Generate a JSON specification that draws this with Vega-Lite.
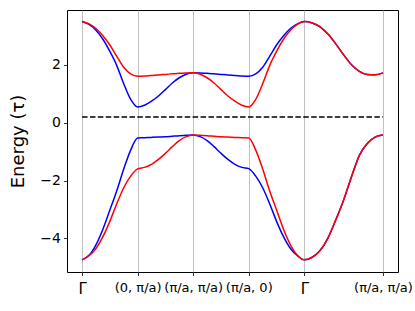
{
  "$schema": "https://vega.github.io/schema/vega-lite/v6.json",
  "width": 331,
  "height": 262,
  "autosize": "none",
  "padding": {"left": 67, "top": 10, "right": 17, "bottom": 39},
  "background": "white",
  "config": {
    "view": {"stroke": "#000", "strokeWidth": 1},
    "font": "DejaVu Sans"
  },
  "datasets": {
    "blue": [
      {"x":0,"E":3.49,"band":"u"},{"x":0.125,"E":3.39,"band":"u"},{"x":0.25,"E":3.19,"band":"u"},{"x":0.375,"E":2.88,"band":"u"},{"x":0.5,"E":2.46,"band":"u"},{"x":0.625,"E":1.97,"band":"u"},{"x":0.75,"E":1.34,"band":"u"},{"x":0.875,"E":0.80,"band":"u"},{"x":1,"E":0.54,"band":"u"},
      {"x":1.125,"E":0.60,"band":"u"},{"x":1.25,"E":0.74,"band":"u"},{"x":1.375,"E":0.92,"band":"u"},{"x":1.5,"E":1.14,"band":"u"},{"x":1.625,"E":1.37,"band":"u"},{"x":1.75,"E":1.55,"band":"u"},{"x":1.875,"E":1.67,"band":"u"},{"x":2,"E":1.72,"band":"u"},
      {"x":2.125,"E":1.715,"band":"u"},{"x":2.25,"E":1.705,"band":"u"},{"x":2.375,"E":1.685,"band":"u"},{"x":2.5,"E":1.665,"band":"u"},{"x":2.625,"E":1.645,"band":"u"},{"x":2.75,"E":1.63,"band":"u"},{"x":2.875,"E":1.61,"band":"u"},{"x":3,"E":1.60,"band":"u"},
      {"x":3.125,"E":1.68,"band":"u"},{"x":3.25,"E":1.91,"band":"u"},{"x":3.375,"E":2.29,"band":"u"},{"x":3.5,"E":2.68,"band":"u"},{"x":3.625,"E":3.00,"band":"u"},{"x":3.75,"E":3.25,"band":"u"},{"x":3.875,"E":3.41,"band":"u"},{"x":4,"E":3.49,"band":"u"},
      {"x":4.1414,"E":3.44,"band":"u"},{"x":4.2828,"E":3.31,"band":"u"},{"x":4.4243,"E":3.06,"band":"u"},{"x":4.5657,"E":2.72,"band":"u"},{"x":4.7071,"E":2.34,"band":"u"},{"x":4.8485,"E":2.00,"band":"u"},{"x":4.9899,"E":1.77,"band":"u"},{"x":5.1314,"E":1.66,"band":"u"},{"x":5.2728,"E":1.65,"band":"u"},{"x":5.4142,"E":1.72,"band":"u"},
      {"x":0,"E":-4.74,"band":"l"},{"x":0.125,"E":-4.585,"band":"l"},{"x":0.25,"E":-4.22,"band":"l"},{"x":0.375,"E":-3.68,"band":"l"},{"x":0.5,"E":-3.02,"band":"l"},{"x":0.625,"E":-2.35,"band":"l"},{"x":0.75,"E":-1.60,"band":"l"},{"x":0.875,"E":-0.95,"band":"l"},{"x":1,"E":-0.53,"band":"l"},
      {"x":1.125,"E":-0.52,"band":"l"},{"x":1.25,"E":-0.51,"band":"l"},{"x":1.375,"E":-0.50,"band":"l"},{"x":1.5,"E":-0.49,"band":"l"},{"x":1.625,"E":-0.47,"band":"l"},{"x":1.75,"E":-0.45,"band":"l"},{"x":1.875,"E":-0.44,"band":"l"},{"x":2,"E":-0.43,"band":"l"},
      {"x":2.125,"E":-0.485,"band":"l"},{"x":2.25,"E":-0.62,"band":"l"},{"x":2.375,"E":-0.83,"band":"l"},{"x":2.5,"E":-1.06,"band":"l"},{"x":2.625,"E":-1.27,"band":"l"},{"x":2.75,"E":-1.44,"band":"l"},{"x":2.875,"E":-1.545,"band":"l"},{"x":3,"E":-1.59,"band":"l"},
      {"x":3.125,"E":-1.85,"band":"l"},{"x":3.25,"E":-2.25,"band":"l"},{"x":3.375,"E":-2.80,"band":"l"},{"x":3.5,"E":-3.41,"band":"l"},{"x":3.625,"E":-3.94,"band":"l"},{"x":3.75,"E":-4.35,"band":"l"},{"x":3.875,"E":-4.60,"band":"l"},{"x":4,"E":-4.74,"band":"l"},
      {"x":4.1414,"E":-4.65,"band":"l"},{"x":4.2828,"E":-4.42,"band":"l"},{"x":4.4243,"E":-3.99,"band":"l"},{"x":4.5657,"E":-3.36,"band":"l"},{"x":4.7071,"E":-2.67,"band":"l"},{"x":4.8485,"E":-1.87,"band":"l"},{"x":4.9899,"E":-1.13,"band":"l"},{"x":5.1314,"E":-0.72,"band":"l"},{"x":5.2728,"E":-0.50,"band":"l"},{"x":5.4142,"E":-0.43,"band":"l"}
    ],
    "red": [
      {"x":0,"E":3.49,"band":"u"},{"x":0.125,"E":3.41,"band":"u"},{"x":0.25,"E":3.25,"band":"u"},{"x":0.375,"E":3.00,"band":"u"},{"x":0.5,"E":2.68,"band":"u"},{"x":0.625,"E":2.29,"band":"u"},{"x":0.75,"E":1.91,"band":"u"},{"x":0.875,"E":1.68,"band":"u"},{"x":1,"E":1.60,"band":"u"},
      {"x":1.125,"E":1.61,"band":"u"},{"x":1.25,"E":1.63,"band":"u"},{"x":1.375,"E":1.645,"band":"u"},{"x":1.5,"E":1.665,"band":"u"},{"x":1.625,"E":1.685,"band":"u"},{"x":1.75,"E":1.705,"band":"u"},{"x":1.875,"E":1.715,"band":"u"},{"x":2,"E":1.72,"band":"u"},
      {"x":2.125,"E":1.67,"band":"u"},{"x":2.25,"E":1.55,"band":"u"},{"x":2.375,"E":1.37,"band":"u"},{"x":2.5,"E":1.14,"band":"u"},{"x":2.625,"E":0.92,"band":"u"},{"x":2.75,"E":0.74,"band":"u"},{"x":2.875,"E":0.60,"band":"u"},{"x":3,"E":0.54,"band":"u"},
      {"x":3.125,"E":0.80,"band":"u"},{"x":3.25,"E":1.34,"band":"u"},{"x":3.375,"E":1.97,"band":"u"},{"x":3.5,"E":2.46,"band":"u"},{"x":3.625,"E":2.88,"band":"u"},{"x":3.75,"E":3.19,"band":"u"},{"x":3.875,"E":3.39,"band":"u"},{"x":4,"E":3.49,"band":"u"},
      {"x":4.1414,"E":3.44,"band":"u"},{"x":4.2828,"E":3.31,"band":"u"},{"x":4.4243,"E":3.06,"band":"u"},{"x":4.5657,"E":2.72,"band":"u"},{"x":4.7071,"E":2.34,"band":"u"},{"x":4.8485,"E":2.00,"band":"u"},{"x":4.9899,"E":1.77,"band":"u"},{"x":5.1314,"E":1.66,"band":"u"},{"x":5.2728,"E":1.65,"band":"u"},{"x":5.4142,"E":1.72,"band":"u"},
      {"x":0,"E":-4.74,"band":"l"},{"x":0.125,"E":-4.60,"band":"l"},{"x":0.25,"E":-4.35,"band":"l"},{"x":0.375,"E":-3.94,"band":"l"},{"x":0.5,"E":-3.41,"band":"l"},{"x":0.625,"E":-2.80,"band":"l"},{"x":0.75,"E":-2.25,"band":"l"},{"x":0.875,"E":-1.85,"band":"l"},{"x":1,"E":-1.60,"band":"l"},
      {"x":1.125,"E":-1.545,"band":"l"},{"x":1.25,"E":-1.44,"band":"l"},{"x":1.375,"E":-1.27,"band":"l"},{"x":1.5,"E":-1.06,"band":"l"},{"x":1.625,"E":-0.83,"band":"l"},{"x":1.75,"E":-0.62,"band":"l"},{"x":1.875,"E":-0.485,"band":"l"},{"x":2,"E":-0.43,"band":"l"},
      {"x":2.125,"E":-0.44,"band":"l"},{"x":2.25,"E":-0.45,"band":"l"},{"x":2.375,"E":-0.47,"band":"l"},{"x":2.5,"E":-0.49,"band":"l"},{"x":2.625,"E":-0.50,"band":"l"},{"x":2.75,"E":-0.51,"band":"l"},{"x":2.875,"E":-0.52,"band":"l"},{"x":3,"E":-0.53,"band":"l"},
      {"x":3.125,"E":-0.95,"band":"l"},{"x":3.25,"E":-1.60,"band":"l"},{"x":3.375,"E":-2.35,"band":"l"},{"x":3.5,"E":-3.02,"band":"l"},{"x":3.625,"E":-3.68,"band":"l"},{"x":3.75,"E":-4.22,"band":"l"},{"x":3.875,"E":-4.585,"band":"l"},{"x":4,"E":-4.74,"band":"l"},
      {"x":4.1414,"E":-4.65,"band":"l"},{"x":4.2828,"E":-4.42,"band":"l"},{"x":4.4243,"E":-3.99,"band":"l"},{"x":4.5657,"E":-3.36,"band":"l"},{"x":4.7071,"E":-2.67,"band":"l"},{"x":4.8485,"E":-1.87,"band":"l"},{"x":4.9899,"E":-1.13,"band":"l"},{"x":5.1314,"E":-0.72,"band":"l"},{"x":5.2728,"E":-0.50,"band":"l"},{"x":5.4142,"E":-0.43,"band":"l"}
    ],
    "fermi": [
      {"x":0,"E":0.19,"band":"f"},{"x":5.4142,"E":0.19,"band":"f"}
    ]
  },
  "encoding": {
    "x": {
      "field": "x", "type": "quantitative",
      "scale": {"domain": [-0.271, 5.685], "nice": false, "zero": false},
      "axis": {
        "values": [0, 1, 2, 3, 4, 5.4142],
        "labelExpr": "['Γ','(0, π/a)','(π/a, π/a)','(π/a, 0)','Γ','(π/a, π/a)'][min(round(datum.value),5)]",
        "title": null,
        "grid": true, "gridColor": "#b0b0b0", "gridWidth": 0.8, "gridOpacity": 1,
        "domain": false,
        "ticks": true, "tickColor": "#000", "tickSize": 3.5, "tickWidth": 0.8,
        "labelFont": "DejaVu Sans",
        "labelFontSize": {"condition": {"test": "datum.value == 0 || datum.value == 4", "value": 15}, "value": 13},
        "labelColor": "#000",
        "labelPadding": 6, "labelOverlap": false, "labelFlush": false
      }
    },
    "y": {
      "field": "E", "type": "quantitative",
      "scale": {"domain": [-5.16, 3.89], "nice": false, "zero": false},
      "axis": {
        "values": [-4, -2, 0, 2],
        "title": "Energy (τ)",
        "titleFont": "DejaVu Sans", "titleFontSize": 18, "titleFontWeight": "normal", "titleColor": "#000",
        "titlePadding": 12,
        "grid": false, "domain": false,
        "ticks": true, "tickColor": "#000", "tickSize": 3.5, "tickWidth": 0.8,
        "labelFont": "DejaVu Sans", "labelFontSize": 14, "labelColor": "#000", "labelPadding": 3
      }
    },
    "detail": {"field": "band", "type": "nominal"}
  },
  "layer": [
    {
      "data": {"name": "blue"},
      "mark": {"type": "line", "color": "#0000ff", "strokeWidth": 1.5, "interpolate": "monotone"}
    },
    {
      "data": {"name": "red"},
      "mark": {"type": "line", "color": "#ff0000", "strokeWidth": 1.5, "interpolate": "monotone"}
    },
    {
      "data": {"name": "fermi"},
      "mark": {"type": "line", "color": "#000", "strokeWidth": 1.5, "strokeDash": [5.5, 2.4]}
    }
  ]
}
